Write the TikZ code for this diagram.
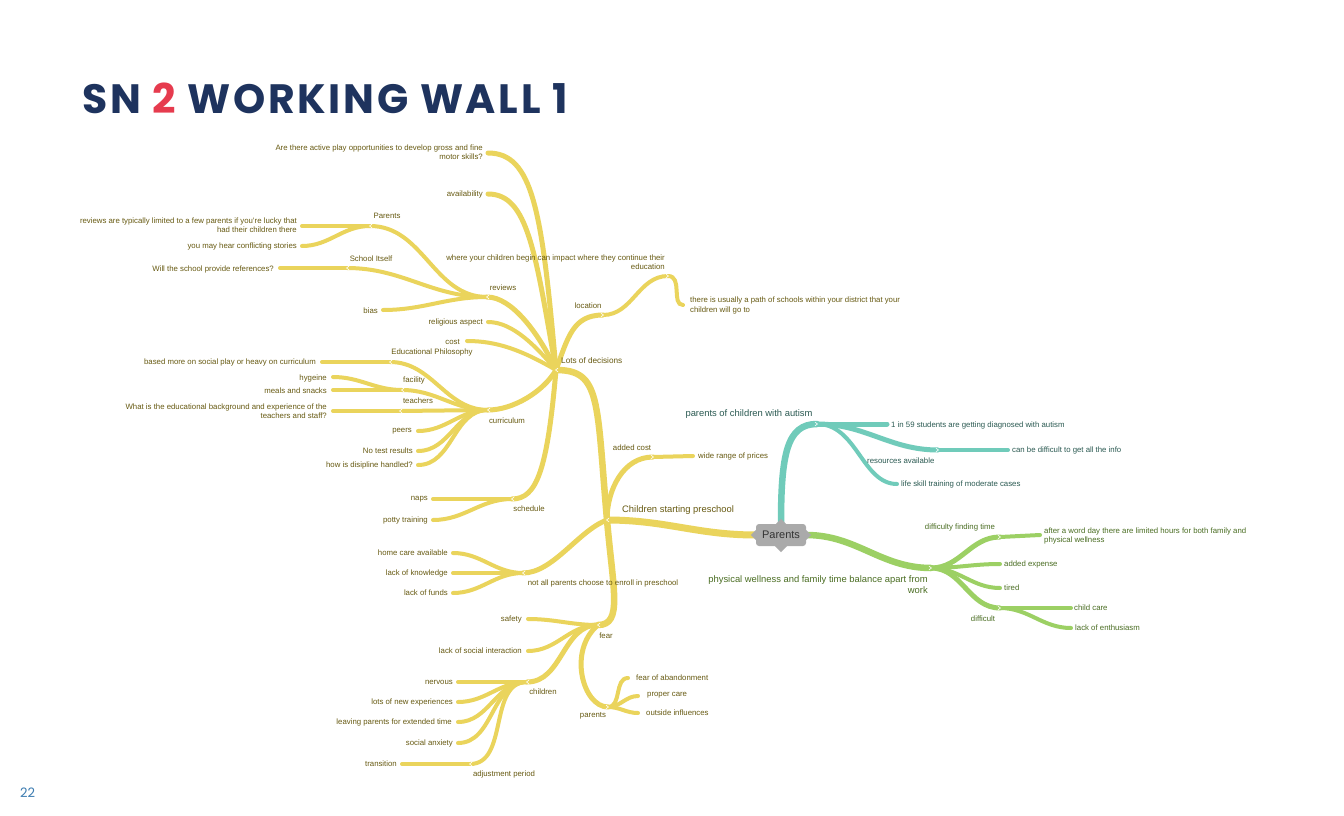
\documentclass[tikz,border=0pt]{standalone}
\usepackage{fontspec}
\setmainfont{Liberation Sans}
\newfontfamily\titlefont{Poppins}[LetterSpace=6.7]
\newfontfamily\numfont{Poppins}
\usetikzlibrary{backgrounds}
\definecolor{ybr}{HTML}{EAD45C}
\definecolor{ytx}{HTML}{675A12}
\definecolor{tbr}{HTML}{70CBBA}
\definecolor{ttx}{HTML}{2B5A52}
\definecolor{gbr}{HTML}{9CD064}
\definecolor{gtx}{HTML}{4A6D22}
\definecolor{pgray}{HTML}{AAAAAA}
\definecolor{navy}{HTML}{1E335E}
\definecolor{tred}{HTML}{E63B4E}
\definecolor{pnum}{HTML}{3B7BB0}
\newcommand\mmS{\fontsize{7.8}{9.2}\selectfont}
\newcommand\mmM{\fontsize{8.2}{9.5}\selectfont}
\newcommand\mmL{\fontsize{9.4}{11}\selectfont}
\tikzset{
  lab/.style={inner sep=0pt, font=\mmS},
  ylab/.style={lab, text=ytx},
  tlab/.style={lab, text=ttx},
  glab/.style={lab, text=gtx},
  ybig/.style={inner sep=0pt, font=\mmL, text=ytx},
  tbig/.style={inner sep=0pt, font=\mmL, text=ttx},
  gbig/.style={inner sep=0pt, font=\mmL, text=gtx},
  yb/.style={draw=ybr, line cap=round},
  tb/.style={draw=tbr, line cap=round},
  gb/.style={draw=gbr, line cap=round},
  w6/.style={line width=6.5pt},
  w5/.style={line width=5pt},
  w4/.style={line width=4pt},
  hv/.style={out=180,in=0},
  vh/.style={out=0,in=180},
  chevL/.pic={\draw[white, line width=0.6pt, line join=miter] (2,1.8) -- (-0.5,0) -- (2,-1.8);},
  chevR/.pic={\draw[white, line width=0.6pt, line join=miter] (-2,1.8) -- (0.5,0) -- (-2,-1.8);},
}
\begin{document}
\begin{tikzpicture}[x=1pt,y=1pt]
\begin{scope}[on background layer]
\fill[white] (0,0) rectangle (1344,-816);
\end{scope}
\useasboundingbox (0,0) rectangle (1344,-816);

% title and page number
\node[anchor=base west, inner sep=0pt, font=\titlefont\bfseries\fontsize{41}{41}\selectfont, text=navy] (title) at (82,-113) {SN \textcolor{tred}{2} WORKING WALL 1};
\node[anchor=base west, inner sep=0pt, font=\numfont\fontsize{13}{13}\selectfont, text=pnum] (pg) at (20,-797) {22};

% central node
\node[fill=pgray, rounded corners=3pt, minimum width=50pt, minimum height=22pt, inner sep=0pt, font=\fontsize{11}{11}\selectfont, text=black!80] (Parents) at (781,-535) {Parents};
\fill[pgray] ([xshift=-6pt]Parents.south) -- ([yshift=-6pt]Parents.south) -- ([xshift=6pt]Parents.south) -- cycle;
\fill[pgray] ([xshift=-5pt]Parents.north) -- ([yshift=5pt]Parents.north) -- ([xshift=5pt]Parents.north) -- cycle;
\fill[pgray] ([yshift=-5pt]Parents.west) -- ([xshift=-5pt]Parents.west) -- ([yshift=5pt]Parents.west) -- cycle;
\fill[pgray] ([yshift=-5pt]Parents.east) -- ([xshift=5pt]Parents.east) -- ([yshift=5pt]Parents.east) -- cycle;

% ---------- coordinates ----------
\coordinate (J1) at (607,-520);
\coordinate (LD) at (556,-370);
\coordinate (AC) at (653,-457);  \coordinate (WRP) at (693,-456);
\coordinate (F) at (598,-625);
\coordinate (NAP) at (523,-573); \coordinate (HCA) at (453,-553); \coordinate (LOK) at (453,-573); \coordinate (LOF) at (453,-593);
\coordinate (APO) at (488,-153); \coordinate (AV) at (488,-194); \coordinate (REV) at (487,-297);
\coordinate (REL) at (488,-322); \coordinate (COST) at (467,-341); \coordinate (CUR) at (488,-410);
\coordinate (SCH) at (512,-499); \coordinate (LOC) at (603,-315);
\coordinate (WYC) at (668,-276); \coordinate (TIU) at (683,-305);
\coordinate (PAR) at (370,-226); \coordinate (RTL) at (302,-226); \coordinate (YMH) at (302,-246);
\coordinate (SCI) at (347,-268); \coordinate (WSP) at (280,-268); \coordinate (BIAS) at (383,-310);
\coordinate (EP) at (390,-362); \coordinate (BMS) at (322,-362);
\coordinate (FAC) at (402,-390); \coordinate (HYG) at (333,-377); \coordinate (MS) at (333,-390);
\coordinate (TEA) at (400,-411); \coordinate (WEB) at (333,-411);
\coordinate (PEERS) at (418,-431); \coordinate (NTR) at (418,-451); \coordinate (HDH) at (418,-465);
\coordinate (NAPS) at (433,-499); \coordinate (PT) at (433,-520);
\coordinate (SAF) at (528,-619); \coordinate (LSI) at (528,-651); \coordinate (CH) at (527,-682);
\coordinate (NERV) at (458,-682); \coordinate (LNE) at (458,-702); \coordinate (LPE) at (458,-722);
\coordinate (SA) at (458,-743); \coordinate (ADJ) at (470,-764); \coordinate (TRANS) at (402,-764);
\coordinate (PAR2) at (608,-707); \coordinate (FOA) at (628,-678); \coordinate (PC) at (638,-696); \coordinate (OI) at (638,-713);
\coordinate (PAC) at (817,-424); \coordinate (ONE) at (887,-424); \coordinate (RES) at (938,-450);
\coordinate (CBD) at (1008,-450); \coordinate (LST) at (897,-484);
\coordinate (PW) at (931,-568); \coordinate (DFT) at (1000,-537); \coordinate (AWD) at (1040,-535);
\coordinate (AE) at (1000,-564); \coordinate (TIRED) at (1000,-588); \coordinate (DIFF) at (1000,-608);
\coordinate (CC) at (1071,-608); \coordinate (LOE) at (1071,-628);

% ---------- connectors ----------
\begin{scope}[on background layer]
% yellow
\draw[yb,line width=7pt] (Parents.west) to[hv] (J1);
\draw[yb,w6] (J1) to[out=95,in=0,out distance=120pt,in distance=45pt] (LD);
\draw[yb,w5] (J1) to[out=90,in=180,out distance=30pt,in distance=30pt] (AC);
\draw[yb,w4] (AC) -- (WRP);
\draw[yb,w6] (J1) to[out=-85,in=0,out distance=70pt,in distance=25pt] (F);
\draw[yb,w5] (J1) to[out=200,in=0,out distance=30pt,in distance=30pt] (NAP);
\draw[yb,w4] (NAP) to[hv] (HCA);
\draw[yb,w4] (NAP) -- (LOK);
\draw[yb,w4] (NAP) to[hv] (LOF);
% lots of decisions
\draw[yb,w5] (LD) to[out=95,in=0,out distance=160pt,in distance=45pt] (APO);
\draw[yb,w5] (LD) to[out=100,in=0,out distance=120pt,in distance=40pt] (AV);
\draw[yb,w5] (LD) to[out=115,in=0,out distance=40pt,in distance=25pt] (REV);
\draw[yb,w4] (LD) to[out=130,in=0,out distance=30pt,in distance=25pt] (REL);
\draw[yb,w4] (LD) to[out=150,in=0,out distance=40pt,in distance=30pt] (COST);
\draw[yb,w5] (LD) to[out=240,in=0,out distance=25pt,in distance=25pt] (CUR);
\draw[yb,w5] (LD) to[out=-95,in=0,out distance=100pt,in distance=25pt] (SCH);
\draw[yb,w5] (LD) to[out=70,in=180,out distance=35pt,in distance=30pt] (LOC);
\draw[yb,w4] (LOC) to[vh] (WYC);
\draw[yb,w4] (WYC) to[out=0,in=180,out distance=15pt,in distance=12pt] (TIU);
% reviews
\draw[yb,w4] (REV) to[hv] (PAR);
\draw[yb,w4] (PAR) -- (RTL);
\draw[yb,w4] (PAR) to[hv] (YMH);
\draw[yb,w4] (REV) to[hv] (SCI);
\draw[yb,w4] (SCI) -- (WSP);
\draw[yb,w4] (REV) to[hv] (BIAS);
% curriculum
\draw[yb,w4] (CUR) to[hv] (EP);
\draw[yb,w4] (EP) -- (BMS);
\draw[yb,w4] (CUR) to[hv] (FAC);
\draw[yb,w4] (FAC) to[hv] (HYG);
\draw[yb,w4] (FAC) -- (MS);
\draw[yb,w4] (CUR) -- (TEA);
\draw[yb,w4] (TEA) -- (WEB);
\draw[yb,w4] (CUR) to[hv] (PEERS);
\draw[yb,w4] (CUR) to[hv] (NTR);
\draw[yb,w4] (CUR) to[hv] (HDH);
% schedule
\draw[yb,w4] (SCH) -- (NAPS);
\draw[yb,w4] (SCH) to[hv] (PT);
% fear
\draw[yb,w4] (F) to[hv] (SAF);
\draw[yb,w4] (F) to[hv] (LSI);
\draw[yb,w5] (F) to[hv] (CH);
\draw[yb,w4] (CH) -- (NERV);
\draw[yb,w4] (CH) to[hv] (LNE);
\draw[yb,w4] (CH) to[hv] (LPE);
\draw[yb,w4] (CH) to[hv] (SA);
\draw[yb,w4] (CH) to[hv] (ADJ);
\draw[yb,w4] (ADJ) -- (TRANS);
\draw[yb,w5] (F) to[out=220,in=180,out distance=40pt,in distance=25pt] (PAR2);
\draw[yb,w4] (PAR2) to[vh] (FOA);
\draw[yb,w4] (PAR2) to[vh] (PC);
\draw[yb,w4] (PAR2) to[vh] (OI);
% teal
\draw[tb,w6] (Parents.north) to[out=90,in=180,out distance=70pt,in distance=30pt] (PAC);
\draw[tb,w5] (PAC) -- (ONE);
\draw[tb,w5] (PAC) to[vh] (RES);
\draw[tb,w4] (RES) -- (CBD);
\draw[tb,w4] (PAC) to[out=0,in=180,out distance=40pt,in distance=35pt] (LST);
% green
\draw[gb,w6] (Parents.east) to[vh] (PW);
\draw[gb,w5] (PW) to[vh] (DFT);
\draw[gb,w4] (DFT) -- (AWD);
\draw[gb,w4] (PW) to[vh] (AE);
\draw[gb,w4] (PW) to[vh] (TIRED);
\draw[gb,w5] (PW) to[vh] (DIFF);
\draw[gb,w4] (DIFF) -- (CC);
\draw[gb,w4] (DIFF) to[vh] (LOE);
\end{scope}

% ---------- node marks ----------
\foreach \p in {J1,LD,F,NAP,REV,CUR,SCH,PAR,SCI,EP,FAC,TEA,CH,ADJ} {\pic at (\p) {chevL};}
\foreach \p in {AC,LOC,WYC,PAR2,PAC,RES,PW,DFT,DIFF} {\pic at (\p) {chevR};}

% ---------- labels: yellow ----------
\node[ybig, anchor=west] (tCSP) at (622,-510) {Children starting preschool};
\node[ylab, font=\mmM, anchor=west] (tLD) at (561,-361) {Lots of decisions};
\node[ylab] (tAC) at (632,-448) {added cost};
\node[ylab, anchor=west] (tWRP) at (698,-456) {wide range of prices};
\node[ylab] (tF) at (606,-636) {fear};
\node[ylab] (tNAP) at (603,-583) {not all parents choose to enroll in preschool};
\node[ylab, anchor=east] (tHCA) at (448,-553) {home care available};
\node[ylab, anchor=east] (tLOK) at (448,-573) {lack of knowledge};
\node[ylab, anchor=east] (tLOF) at (448,-593) {lack of funds};
\node[ylab, anchor=east, align=right] (tAPO) at (483,-152.5) {Are there active play opportunities to develop gross and fine\\motor skills?};
\node[ylab, anchor=east] (tAV) at (483,-194) {availability};
\node[ylab] (tREV) at (503,-288) {reviews};
\node[ylab, anchor=east] (tREL) at (483,-322) {religious aspect};
\node[ylab, anchor=east] (tCOST) at (460,-342) {cost};
\node[ylab] (tCUR) at (507,-421) {curriculum};
\node[ylab] (tSCH) at (529,-509) {schedule};
\node[ylab] (tLOC) at (588,-306) {location};
\node[ylab, anchor=east, align=right] (tWYC) at (665,-262.5) {where your children begin can impact where they continue their\\education};
\node[ylab, anchor=west, align=left] (tTIU) at (690,-305.5) {there is usually a path of schools within your district that your\\children will go to};
\node[ylab] (tPAR) at (387,-216) {Parents};
\node[ylab, anchor=east, align=right] (tRTL) at (297,-225.5) {reviews are typically limited to a few parents if you're lucky that\\had their children there};
\node[ylab, anchor=east] (tYMH) at (297,-246) {you may hear conflicting stories};
\node[ylab] (tSCI) at (371,-259) {School Itself};
\node[ylab, anchor=east] (tWSP) at (274,-269) {Will the school provide references?};
\node[ylab, anchor=east] (tBIAS) at (378,-311) {bias};
\node[ylab] (tEP) at (432,-352) {Educational Philosophy};
\node[ylab, anchor=east] (tBMS) at (316,-362) {based more on social play or heavy on curriculum};
\node[ylab] (tFAC) at (414,-380) {facility};
\node[ylab, anchor=east] (tHYG) at (327,-378) {hygeine};
\node[ylab, anchor=east] (tMS) at (327,-391) {meals and snacks};
\node[ylab] (tTEA) at (418,-401) {teachers};
\node[ylab, anchor=east, align=right] (tWEB) at (327,-411.5) {What is the educational background and experience of the\\teachers and staff?};
\node[ylab, anchor=east] (tPEERS) at (412,-431) {peers};
\node[ylab, anchor=east] (tNTR) at (413,-451) {No test results};
\node[ylab, anchor=east] (tHDH) at (413,-465) {how is disipline handled?};
\node[ylab, anchor=east] (tNAPS) at (428,-499) {naps};
\node[ylab, anchor=east] (tPT) at (428,-520) {potty training};
\node[ylab, anchor=east] (tSAF) at (522,-619) {safety};
\node[ylab, anchor=east] (tLSI) at (522,-651) {lack of social interaction};
\node[ylab] (tCH) at (543,-692) {children};
\node[ylab, anchor=east] (tNERV) at (453,-682) {nervous};
\node[ylab, anchor=east] (tLNE) at (453,-702) {lots of new experiences};
\node[ylab, anchor=east] (tLPE) at (452,-722) {leaving parents for extended time};
\node[ylab, anchor=east] (tSA) at (453,-743) {social anxiety};
\node[ylab] (tADJ) at (504,-774) {adjustment period};
\node[ylab, anchor=east] (tTRANS) at (397,-764) {transition};
\node[ylab] (tPAR2) at (593,-716) {parents};
\node[ylab, anchor=west] (tFOA) at (636,-678) {fear of abandonment};
\node[ylab, anchor=west] (tPC) at (647,-695) {proper care};
\node[ylab, anchor=west] (tOI) at (646,-713) {outside influences};

% ---------- labels: teal ----------
\node[tbig] (tPAC) at (749,-414) {parents of children with autism};
\node[tlab, anchor=west] (tONE) at (891,-425) {1 in 59 students are getting diagnosed with autism};
\node[tlab, anchor=west] (tRES) at (867,-461) {resources available};
\node[tlab, anchor=west] (tCBD) at (1012,-450) {can be difficult to get all the info};
\node[tlab, anchor=west] (tLST) at (901,-484) {life skill training of moderate cases};

% ---------- labels: green ----------
\node[gbig, anchor=east, align=right] (tPW) at (928,-585) {physical wellness and family time balance apart from\\work};
\node[glab] (tDFT) at (960,-527) {difficulty finding time};
\node[glab, anchor=west, align=left] (tAWD) at (1044,-536) {after a word day there are limited hours for both family and\\physical wellness};
\node[glab, anchor=west] (tAE) at (1004,-564) {added expense};
\node[glab, anchor=west] (tTIRED) at (1004,-588) {tired};
\node[glab] (tDIFF) at (983,-619) {difficult};
\node[glab, anchor=west] (tCC) at (1074,-608) {child care};
\node[glab, anchor=west] (tLOE) at (1075,-628) {lack of enthusiasm};
\end{tikzpicture}
\end{document}
